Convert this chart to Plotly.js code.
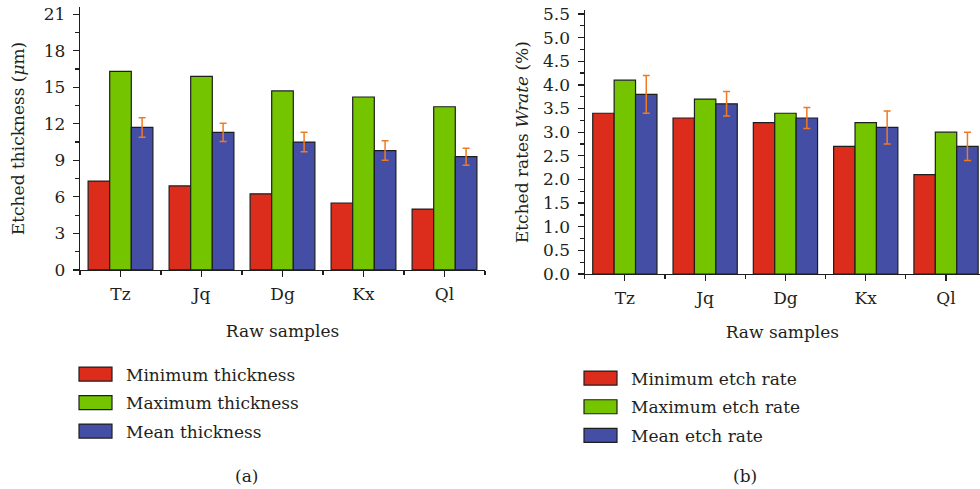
<!DOCTYPE html>
<html>
<head>
<meta charset="utf-8">
<script src="https://cdn.plot.ly/plotly-3.0.1.min.js"></script>
<style>
  html, body { margin: 0; padding: 0; background: #fff; }
  #chart { width: 980px; height: 489px; }
</style>
</head>
<body>
<div id="chart"></div>
<script>
// ---- data ----
const samples = ['Tz', 'Jq', 'Dg', 'Kx', 'Ql'];
const minThick = [7.3, 6.9, 6.25, 5.5, 5.0];
const maxThick = [16.3, 15.9, 14.7, 14.2, 13.4];
const meanThick = [11.7, 11.3, 10.5, 9.8, 9.3];
const errThick = [0.8, 0.75, 0.8, 0.8, 0.7];
const minRate = [3.4, 3.3, 3.2, 2.7, 2.1];
const maxRate = [4.1, 3.7, 3.4, 3.2, 3.0];
const meanRate = [3.8, 3.6, 3.3, 3.1, 2.7];
const errRate = [0.4, 0.26, 0.22, 0.35, 0.3];
const legendThick = ['Minimum thickness', 'Maximum thickness', 'Mean thickness'];
const legendRate = ['Minimum etch rate', 'Maximum etch rate', 'Mean etch rate'];

// ---- styles ----
const RED = '#DC2C1C', GREEN = '#74C400', BLUE = '#444EA5';
const EDGE = '#1e1e1e', ERR = '#F07A22', TXT = '#231F20';
const FONT = 'DejaVu Serif, Liberation Serif, serif';
const FS = 17;
const SWATCH_D = 'M16.5,7H-16.5V-7H16.5Z';   // wide legend swatch (33 x 14 px)

function bar(name, x, y, color, xa, ya, leg, grp, err) {
  const t = {
    type: 'bar', name: name, x: x, y: y, xaxis: xa, yaxis: ya,
    legend: leg, legendgroup: grp,
    marker: { color: color, line: { color: EDGE, width: 1.2 } },
    hoverinfo: 'skip'
  };
  if (err) t.error_y = { type: 'data', array: err, visible: true, color: ERR, thickness: 1.5, width: 3.5 };
  return t;
}

const traces = [
  bar(legendThick[0], samples, minThick, RED, 'x', 'y', 'legend', 'a1'),
  bar(legendThick[1], samples, maxThick, GREEN, 'x', 'y', 'legend', 'a2'),
  bar(legendThick[2], samples, meanThick, BLUE, 'x', 'y', 'legend', 'a3', errThick),
  bar(legendRate[0], samples, minRate, RED, 'x2', 'y2', 'legend2', 'b1'),
  bar(legendRate[1], samples, maxRate, GREEN, 'x2', 'y2', 'legend2', 'b2'),
  bar(legendRate[2], samples, meanRate, BLUE, 'x2', 'y2', 'legend2', 'b3', errRate),
  // invisible helpers carrying the categories for the centre-tick overlay axes
  { type: 'scatter', mode: 'markers', x: samples, y: meanThick, xaxis: 'x3', yaxis: 'y',
    marker: { opacity: 0 }, showlegend: false, hoverinfo: 'skip' },
  { type: 'scatter', mode: 'markers', x: samples, y: meanRate, xaxis: 'x4', yaxis: 'y2',
    marker: { opacity: 0 }, showlegend: false, hoverinfo: 'skip' }
];

const axisBase = {
  showline: true, linecolor: EDGE, linewidth: 1.2, showgrid: false, zeroline: false,
  ticks: 'outside', tickcolor: EDGE, tickwidth: 1.2, automargin: false,
  tickfont: { family: FONT, size: FS, color: TXT }
};

const xcat = Object.assign({}, axisBase, {
  type: 'category', categoryorder: 'array', categoryarray: samples,
  tickson: 'boundaries', ticklen: 3.5, ticklabelstandoff: 8
});
const xover = {
  type: 'category', categoryorder: 'array', categoryarray: samples,
  showline: false, showgrid: false, zeroline: false, showticklabels: false,
  ticks: 'outside', ticklen: 6, tickcolor: EDGE, tickwidth: 1.2
};

const layout = {
  width: 980, height: 489,
  margin: { l: 0, r: 0, t: 0, b: 0 },
  paper_bgcolor: '#fff', plot_bgcolor: '#fff',
  barmode: 'group', bargap: 0.2, bargroupgap: 0,
  font: { family: FONT, color: TXT, size: FS },
  hovermode: false,
  xaxis: Object.assign({}, xcat, {
    domain: [80 / 980, 485 / 980], anchor: 'y', range: [-0.5, 4.5],
    title: { text: 'Raw samples', font: { family: FONT, size: FS, color: TXT }, standoff: 22 }
  }),
  xaxis3: Object.assign({}, xover, { overlaying: 'x', anchor: 'y', range: [-0.5, 4.5] }),
  yaxis: Object.assign({}, axisBase, {
    domain: [0.4479, 0.9859], anchor: 'x', range: [0, 21.6],
    tick0: 0, dtick: 3, ticklen: 6, ticklabelstandoff: 4,
    minor: { dtick: 1.5, tick0: 0, ticks: 'outside', ticklen: 3.5, tickcolor: EDGE, tickwidth: 1.2, showgrid: false },
    title: { text: 'Etched thickness (<i>μ</i>m)', font: { family: FONT, size: FS, color: TXT }, standoff: 14 }
  }),
  xaxis2: Object.assign({}, xcat, {
    domain: [584.7 / 980, 1], anchor: 'y2', range: [-0.5, 4.423],
    title: { text: 'Raw samples', font: { family: FONT, size: FS, color: TXT }, standoff: 19 }
  }),
  xaxis4: Object.assign({}, xover, { overlaying: 'x2', anchor: 'y2', range: [-0.5, 4.423] }),
  yaxis2: Object.assign({}, axisBase, {
    domain: [0.4397, 0.9791], anchor: 'x2', range: [0, 5.58],
    tick0: 0, dtick: 0.5, tickformat: '.1f', ticklen: 6, ticklabelstandoff: 4,
    minor: { dtick: 0.25, tick0: 0, ticks: 'outside', ticklen: 3.5, tickcolor: EDGE, tickwidth: 1.2, showgrid: false },
    title: { text: 'Etched rates <i>Wrate</i> (%)', font: { family: FONT, size: FS, color: TXT }, standoff: 10 }
  }),
  legend: {
    x: 65 / 980, xanchor: 'left', y: (489 - 356.5) / 489, yanchor: 'top',
    bgcolor: 'rgba(0,0,0,0)', borderwidth: 0, itemwidth: 51,
    tracegroupgap: 3.4, traceorder: 'grouped',
    font: { family: FONT, size: FS, color: TXT }
  },
  legend2: {
    x: 570 / 980, xanchor: 'left', y: (489 - 360.5) / 489, yanchor: 'top',
    bgcolor: 'rgba(0,0,0,0)', borderwidth: 0, itemwidth: 51,
    tracegroupgap: 3.6, traceorder: 'grouped',
    font: { family: FONT, size: FS, color: TXT }
  },
  annotations: [
    { text: '(a)', xref: 'paper', yref: 'paper', x: 246 / 980, y: (489 - 476) / 489,
      xanchor: 'center', yanchor: 'middle', showarrow: false, font: { family: FONT, size: FS, color: TXT } },
    { text: '(b)', xref: 'paper', yref: 'paper', x: 745 / 980, y: (489 - 476) / 489,
      xanchor: 'center', yanchor: 'middle', showarrow: false, font: { family: FONT, size: FS, color: TXT } }
  ],
  showlegend: true
};

// legend swatches: wide rectangles like the original figure (both legends)
function widenSwatches(gd) {
  gd.querySelectorAll('g.traces g.legendpoints path').forEach(function (p) {
    if (p.getAttribute('d') !== SWATCH_D) p.setAttribute('d', SWATCH_D);
  });
}

const gdiv = document.getElementById('chart');
let passes = 0;
const obs = new MutationObserver(function () {
  if (passes++ > 300) return;
  widenSwatches(gdiv);
});
obs.observe(gdiv, { childList: true, subtree: true, attributes: true, attributeFilter: ['d'] });

Plotly.newPlot(gdiv, traces, layout, { staticPlot: true, displayModeBar: false }).then(function (gd) {
  widenSwatches(gd);
});
</script>
</body>
</html>
